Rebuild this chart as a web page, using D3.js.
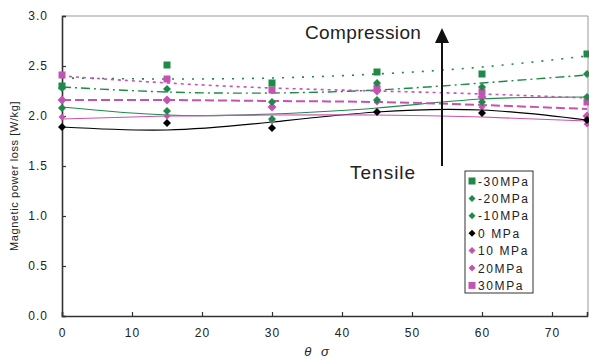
<!DOCTYPE html>
<html>
<head>
<meta charset="utf-8">
<script src="https://cdn.jsdelivr.net/npm/d3@7"></script>
<style>
  body { margin: 0; background: #fff; }
  svg { display: block; font-family: "Liberation Sans Narrow", "Liberation Sans", sans-serif; }
</style>
</head>
<body>
<div id="graph1"></div>
<script>
// stress angle vs magnetic power loss, one series per stress level
const angles = [0, 15, 30, 45, 60, 75];
const seriesNames = ["-30MPa", "-20MPa", "-10MPa", "0 MPa", "10 MPa", "20MPa", "30MPa"];
const lossM30 = [2.30, 2.51, 2.33, 2.44, 2.42, 2.62];
const lossM20 = [2.28, 2.27, 2.14, 2.33, 2.29, 2.42];
const lossM10 = [2.08, 2.05, 1.97, 2.16, 2.14, 2.19];
const loss0   = [1.89, 1.93, 1.88, 2.04, 2.03, 1.96];
const loss10  = [1.99, 2.00, 1.95, 2.14, 2.09, 1.92];
const loss20  = [2.16, 2.16, 2.09, 2.25, 2.19, 2.00];
const loss30  = [2.41, 2.37, 2.26, 2.28, 2.24, 2.14];
// trend lines at the same angles
const trendM30 = [2.38, 2.37, 2.38, 2.42, 2.49, 2.60];
const trendM20 = [2.29, 2.24, 2.23, 2.26, 2.33, 2.41];
const trendM10 = [2.09, 2.01, 2.02, 2.08, 2.17, 2.19];
const trend0   = [1.89, 1.86, 1.94, 2.04, 2.06, 1.96];
const trend10  = [1.97, 2.00, 2.01, 2.01, 1.99, 1.95];
const trend20  = [2.16, 2.16, 2.15, 2.14, 2.11, 2.07];
const trend30  = [2.40, 2.33, 2.28, 2.25, 2.22, 2.18];
const yTicks = [0, 0.5, 1.0, 1.5, 2.0, 2.5, 3.0];
const xTicks = [0, 10, 20, 30, 40, 50, 60, 70];

const green = "#1f8a48", magenta = "#c453b4";
const series = [
  { name: seriesNames[0], vals: lossM30, trend: trendM30, color: green, shape: "square", size: 7, dash: "2,8", w: 1.6 },
  { name: seriesNames[1], vals: lossM20, trend: trendM20, color: green, shape: "diamond", size: 7, dash: "9,4,2,4", w: 1.4 },
  { name: seriesNames[2], vals: lossM10, trend: trendM10, color: green, shape: "diamond", size: 7, dash: null, w: 1.2 },
  { name: seriesNames[3], vals: loss0, trend: trend0, color: "#000", shape: "diamond", size: 7, dash: null, w: 1.2 },
  { name: seriesNames[4], vals: loss10, trend: trend10, color: magenta, shape: "diamond", size: 6, dash: null, w: 1.2 },
  { name: seriesNames[5], vals: loss20, trend: trend20, color: magenta, shape: "diamond", size: 8, dash: "9,4", w: 2 },
  { name: seriesNames[6], vals: loss30, trend: trend30, color: magenta, shape: "square", size: 7, dash: "3,4", w: 1.6 }
];

const width = 589, height = 362;
const plotL = 62, plotR = 587, plotT = 16, plotB = 316;

let svg = d3.select("#graph1").append("svg")
    .attr("width", width)
    .attr("height", height);

let x = d3.scaleLinear().domain([0, 75]).range([plotL, plotR]);
let y = d3.scaleLinear().domain([0, 3]).range([plotB, plotT]);

// frame top / right
svg.append("path")
    .attr("d", `M${plotL},${plotT}H${plotR + 1}V${plotB}`)
    .attr("fill", "none")
    .attr("stroke", "#999")
    .attr("stroke-width", 1);

let yAxis = svg.append("g")
    .attr("transform", `translate(${plotL},0)`)
    .call(d3.axisLeft(y).tickValues(yTicks).tickSize(-4).tickPadding(14).tickFormat(d3.format(".1f")));
let xAxis = svg.append("g")
    .attr("transform", `translate(0,${plotB})`)
    .call(d3.axisBottom(x).tickValues(xTicks).tickSize(-4).tickPadding(12));
[yAxis, xAxis].forEach(a => {
    a.select(".domain").attr("stroke", "#333").attr("stroke-width", 1.6);
    a.selectAll(".tick line").attr("stroke", "#333").attr("stroke-width", 1.2);
    a.selectAll("text").attr("fill", "#222").style("font-size", "12px").style("letter-spacing", "1px");
});

let line = d3.line()
    .x((d, i) => x(angles[i]))
    .y(d => y(d))
    .curve(d3.curveNatural);

let trends = svg.append("g");
series.forEach(s => {
    trends.append("path")
        .datum(s.trend)
        .attr("d", line)
        .attr("fill", "none")
        .attr("stroke", s.color)
        .attr("stroke-width", s.w)
        .attr("stroke-dasharray", s.dash);
});

function marker(g, shape, size, color) {
    if (shape === "square") {
        g.append("rect")
            .attr("x", -size / 2).attr("y", -size / 2)
            .attr("width", size).attr("height", size)
            .attr("fill", color);
    } else {
        let h = size / 2 + 0.5;
        g.append("path")
            .attr("d", `M0,${-h}L${h},0L0,${h}L${-h},0Z`)
            .attr("fill", color);
    }
}

let points = svg.append("g");
series.slice().reverse().forEach(s => {
    points.selectAll(null)
        .data(s.vals)
        .enter()
        .append("g")
        .attr("transform", (d, i) => `translate(${x(angles[i])},${y(d)})`)
        .each(function () { marker(d3.select(this), s.shape, s.size, s.color); });
});

// annotations
svg.append("text")
    .attr("x", 305).attr("y", 39)
    .style("font-family", "Liberation Sans, Arial, sans-serif")
    .style("font-size", "19px")
    .style("letter-spacing", "0.4px")
    .attr("fill", "#222")
    .text("Compression");
svg.append("text")
    .attr("x", 350).attr("y", 179)
    .style("font-family", "Liberation Sans, Arial, sans-serif")
    .style("font-size", "19px")
    .style("letter-spacing", "1px")
    .attr("fill", "#222")
    .text("Tensile");
svg.append("line")
    .attr("x1", 442).attr("x2", 442)
    .attr("y1", 166).attr("y2", 40)
    .attr("stroke", "#111").attr("stroke-width", 2);
svg.append("path")
    .attr("d", "M442,28L449,43L435,43Z")
    .attr("fill", "#111");

// legend
let legend = svg.append("g").attr("transform", "translate(465,171)");
legend.append("rect")
    .attr("width", 68).attr("height", 122)
    .attr("fill", "#fff")
    .attr("stroke", "#333")
    .attr("stroke-width", 1);
series.forEach((s, i) => {
    let row = legend.append("g").attr("transform", `translate(7,${10 + i * 17.4})`);
    marker(row, s.shape, s.shape === "square" ? 7 : 6, s.color);
    row.append("text")
        .attr("x", 6).attr("y", 4.5)
        .style("font-size", "12px")
        .style("letter-spacing", "1.6px")
        .attr("fill", "#222")
        .text(s.name);
});

// axis titles
svg.append("text")
    .attr("transform", `translate(18, ${(plotT + plotB) / 2 + 10}) rotate(-90)`)
    .style("text-anchor", "middle")
    .style("font-size", "11px")
    .style("letter-spacing", "0.6px")
    .attr("fill", "#222")
    .text("Magnetic power loss [W/kg]");
svg.append("text")
    .attr("x", 318).attr("y", 356)
    .style("text-anchor", "middle")
    .style("font-size", "13px")
    .style("font-style", "italic")
    .style("letter-spacing", "3px")
    .attr("fill", "#222")
    .text("θ σ");
</script>
</body>
</html>
